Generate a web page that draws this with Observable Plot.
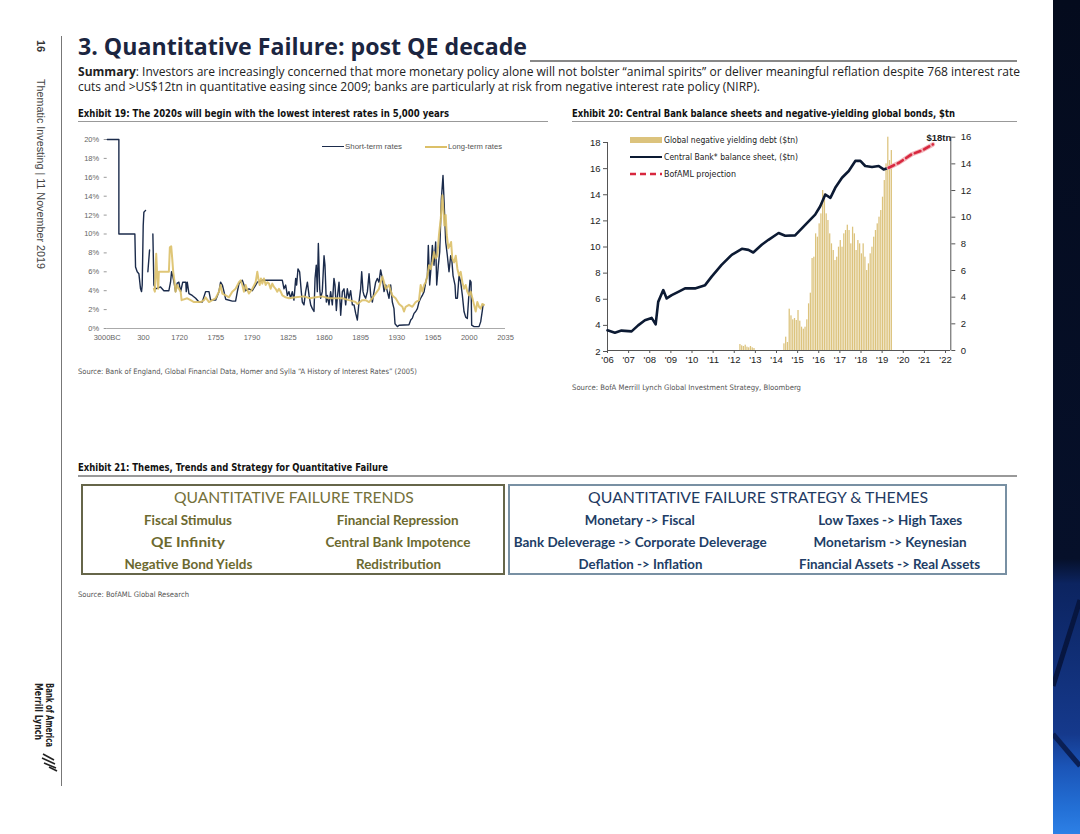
<!DOCTYPE html>
<html><head><meta charset="utf-8">
<script src="https://cdn.jsdelivr.net/npm/d3@7"></script>
<script src="https://cdn.jsdelivr.net/npm/@observablehq/plot@0.6"></script>
<style>
html,body{margin:0;padding:0;background:#fff;}
#page{position:relative;width:1080px;height:834px;overflow:hidden;background:#fff;}
.t{position:absolute;white-space:nowrap;line-height:1;}
.abs{position:absolute;}
</style></head><body><div id="page"></div>
<script>
// ---------- Exhibit 19 data: interest rates over 5,000 years ----------
const rateXTicks = [-3000, 300, 1720, 1755, 1790, 1825, 1860, 1895, 1930, 1965, 2000, 2035];
const rateYTicks = [0, 2, 4, 6, 8, 10, 12, 14, 16, 18, 20];
const shortYears = [-3000,-1936,-1935,-478,-417,-265,-113,39,130,191,282,318,384,430,475,541,600,671,711,776,972,1103,1299,1364,1404,1456,1521,1560,1626,1691,
1721,1723,1726,1726.4,1727.4,1729,1732.2,1735.5,1738.7,1741.9,1745.1,1748.4,1750,1754.8,1758,1759.6,1761.3,1762.9,1764.5,1770.9,1774.1,1775.8,1777.4,1780.6,1782.2,1783.8,1787,1790.3,1793.5,1795.1,1799.9,1819.3,1820.9,1822.5,1824.1,1825.7,1827.3,1828.9,1830.5,1832.2,1833.1,1834.4,1836,1837.6,1838.6,1840.2,1841.8,1843.5,1845.1,1846.7,1848.3,1849.9,1850.9,1852.1,1853.1,1854.1,1855.4,1856.3,1857.9,1859.6,1860.5,1861.8,1862.8,1864.4,1866,1867.6,1869.2,1870.2,1871.5,1872.4,1874.1,1875.7,1877.3,1878.9,1880.5,1882.1,1883.7,1885.3,1887,1888.6,1890.2,1891.8,1893.4,1895,1896,1897.3,1898.3,1899.8,1901.5,1903.1,1904.7,1906.3,1907.9,1909.5,1911.1,1912.7,1914.3,1916,1917.6,1919.2,1920.8,1922.4,1924,1925.6,1927.2,1928.2,1930.5,1932.1,1941.7,1943.4,1945,1946.6,1948.2,1949.8,1951.4,1953,1954.6,1956.3,1957.9,1959.5,1960.4,1961.7,1962.7,1964.3,1965.9,1967.5,1968.5,1970.1,1971.4,1973,1974.6,1975.9,1977.2,1978.8,1980.4,1982,1983,1984.3,1986.2,1986.9,1988.5,1990.1,1991.7,1993.3,1994.9,1996.5,1998.1,1999.8,2000.7,2001.7,2002.3,2004.6,2009.4,2011,2012.6,2013.3];
const shortRates = [20,20,10,10,6.5,6.0,5.8,4.2,3.9,4.6,10.9,12.3,12.5,null,6.0,8.3,null,10.0,4.6,4.2,4.4,4.0,4.0,4.9,6.0,5.5,4.6,3.9,4.8,4.9,
3.9,4.9,4.9,3.9,4.9,3.7,3.5,3.2,2.8,2.8,3.9,3.9,3.0,3.0,3.9,4.9,4.6,3.9,3.1,2.9,2.9,3.9,4.75,5.1,4.6,4.0,4.2,4.0,4.6,4.9,5.1,5.1,4.2,4.6,3.5,3.9,3.2,3.9,3.0,5.3,4.6,6.3,6.0,3.9,2.8,2.5,3.9,4.9,3.5,2.5,2.1,1.8,5.3,6.7,3.9,9.0,4.2,3.2,3.9,7.7,6.7,2.8,3.5,2.5,3.9,2.5,5.3,4.6,1.9,3.2,4.9,1.4,3.9,4.2,2.5,4.2,3.2,4.0,2.5,2.5,1.6,0.9,2.8,4.2,6.0,3.9,3.5,3.2,3.9,5.8,3.5,2.8,3.9,4.9,5.3,4.9,6.2,5.3,3.9,4.6,3.9,3.2,4.6,2.8,2.1,0.5,0.2,0.35,0.4,0.9,1.1,1.6,1.8,2.1,2.8,3.2,3.5,3.9,4.9,5.6,8.8,4.6,6.0,8.8,6.7,9.15,4.6,6.7,8.1,13.7,16.2,12.7,9.15,7.7,6.0,7.7,7.4,5.6,4.6,3.2,3.2,5.6,4.9,3.5,1.8,1.2,1.06,3.9,5.1,4.9,0.35,0.2,0.2,0.7,1.9,2.5];
const longYears = [711,750,802,841,881,907,1299,1338,1390,1430,1469,1521,1560,1626,1691,1721,1721.9,1727.4,1730.6,1733.9,1740.3,1743.5,1745.1,1748.4,1751.6,1754.8,1758,1759.6,1761.3,1764.5,1767.7,1770.9,1774.1,1777.4,1779,1780.6,1782.2,1783.8,1785.4,1787,1790.3,1793.5,1795.1,1796.1,1797.4,1798.6,1799.9,1801.5,1803.2,1804.8,1806.4,1808,1809.6,1811.2,1812.8,1814.4,1816,1817.7,1819.3,1822.5,1825.7,1832.2,1840,1846,1851.5,1858,1864,1870.8,1877.3,1883.7,1890.2,1891.8,1896.6,1899.8,1903.1,1906.3,1909.5,1912.7,1914.3,1916,1917.6,1919.2,1922.4,1924,1925.6,1928.8,1932.1,1935.3,1936.9,1938.5,1941.7,1945,1948.2,1951.4,1953,1954.6,1956.3,1957.9,1959.5,1961.1,1962.7,1964.3,1965.9,1967.5,1969.1,1970.7,1972.4,1974,1974.9,1975.9,1977.2,1978.2,1979.8,1981.1,1982.4,1983.6,1985.3,1986.9,1988.5,1990.1,1991.7,1993.3,1994.9,1996.5,1998.1,1999.8,2001.4,2003,2004.6,2006.2,2007.8,2009.4,2011,2012.6,2014.2];
const longRates = [4.2,3.9,7.9,5.6,4.2,6.0,6.0,8.6,8.7,7.4,6.0,4.9,3.9,4.6,4.2,3.9,3.0,3.2,3.0,2.8,2.8,3.0,3.3,2.8,3.0,3.2,3.9,4.6,3.7,3.5,3.3,3.9,4.2,4.9,5.1,4.6,3.9,4.6,4.1,3.7,4.2,4.9,6.0,5.3,4.6,5.3,4.75,5.3,4.6,4.9,4.75,4.2,4.75,4.4,4.2,3.9,4.2,3.9,3.5,3.3,3.2,3.3,3.4,3.2,3.3,3.4,3.2,3.2,3.2,3.0,2.8,2.6,3.0,3.0,2.8,3.2,3.7,4.2,4.9,5.5,4.9,4.2,4.6,4.0,3.5,3.2,2.6,2.3,1.8,2.3,2.5,2.3,2.8,3.0,4.6,3.9,4.6,4.9,5.6,6.7,6.3,7.0,8.1,7.4,7.7,9.9,11.6,14.1,12.7,10.9,12.0,9.9,8.5,8.8,9.15,7.4,7.0,7.7,6.3,5.6,6.0,4.9,4.2,4.6,3.9,3.5,3.9,3.2,2.5,1.8,2.8,2.3,2.1,2.6,2.5];

// ---------- Exhibit 20 data ----------
const cbYears = [2006.0,2006.35,2006.66,2007.14,2007.45,2007.77,2008.09,2008.28,2008.4,2008.64,2008.8,2009.04,2009.35,2009.67,2010.14,2010.62,2010.93,2011.4,2011.88,2012.36,2012.67,2012.9,2013.3,2013.62,2014.1,2014.41,2014.88,2015.36,2015.83,2016.07,2016.31,2016.55,2016.78,2017.1,2017.42,2017.73,2017.97,2018.2,2018.52,2018.84,2019.07,2019.31];
const cbValues = [3.62,3.44,3.6,3.54,4.0,4.39,4.57,4.08,5.8,6.7,6.06,6.31,6.57,6.83,6.83,7.08,7.73,8.63,9.4,9.86,9.78,9.58,10.17,10.55,11.07,10.86,10.89,11.7,12.48,13.12,14.02,13.76,14.53,15.3,15.82,16.59,16.59,16.2,16.12,16.2,15.94,16.07];
const projYears = [2019.31,2019.8,2020.4,2020.9,2021.4];
const projValues = [16.07,16.45,17.1,17.4,17.85];
const negMonths = ["2012-04","2012-05","2012-06","2012-07","2012-08","2012-09","2012-10","2012-11","2012-12",
"2014-05","2014-06","2014-07","2014-08","2014-09","2014-10","2014-11","2014-12",
"2015-01","2015-02","2015-03","2015-04","2015-05","2015-06","2015-07","2015-08","2015-09","2015-10","2015-11","2015-12",
"2016-01","2016-02","2016-03","2016-04","2016-05","2016-06","2016-07","2016-08","2016-09","2016-10","2016-11","2016-12",
"2017-01","2017-02","2017-03","2017-04","2017-05","2017-06","2017-07","2017-08","2017-09","2017-10","2017-11","2017-12",
"2018-01","2018-02","2018-03","2018-04","2018-05","2018-06","2018-07","2018-08","2018-09","2018-10","2018-11","2018-12",
"2019-01","2019-02","2019-03","2019-04","2019-05","2019-06"];
const negDebt = [0.45,0.35,0.3,0.4,0.25,0.2,0.3,0.2,0.15,
0.5,1.0,0.6,3.1,2.6,2.3,2.4,2.25,
3.0,2.2,1.75,1.6,1.75,2.3,3.5,4.3,6.9,7.0,8.75,8.5,
9.5,10.25,12.0,11.75,10.25,9.75,8.75,8.0,7.5,6.75,7.0,7.75,
8.25,7.75,8.75,9.0,9.4,9.0,8.0,9.25,8.75,7.5,8.25,8.0,
7.25,8.0,7.0,6.0,6.5,7.25,7.75,8.5,9.0,9.5,10.0,10.5,
11.5,12.75,14.0,16.0,14.25,15.0];
const yearTicks = [2006,2007,2008,2009,2010,2011,2012,2013,2014,2015,2016,2017,2018,2019,2020,2021,2022];
const leftTicks = [2,4,6,8,10,12,14,16,18];
const rightTicks = [0,2,4,6,8,10,12,14,16];

// ---------- Exhibit 21 table ----------
const trendsTitle = "QUANTITATIVE FAILURE TRENDS";
const trendsItems = [["Fiscal Stimulus","Financial Repression"],["QE Infinity","Central Bank Impotence"],["Negative Bond Yields","Redistribution"]];
const themesTitle = "QUANTITATIVE FAILURE STRATEGY & THEMES";
const themesItems = [["Monetary -> Fiscal","Low Taxes -> High Taxes"],["Bank Deleverage -> Corporate Deleverage","Monetarism -> Keynesian"],["Deflation -> Inflation","Financial Assets -> Real Assets"]];

const page = document.getElementById('page');
function box(o){const d=document.createElement('div');d.className='abs';Object.assign(d.style,o);page.appendChild(d);return d;}
function txt(s,o){
  const el=document.createElement('div');el.className='t';
  if(o.html) el.innerHTML=s; else el.textContent=s;
  const size=o.size||10;
  el.style.fontSize=size+'px';
  el.style.fontFamily=o.font||"Lato, sans-serif";
  el.style.fontWeight=o.weight||'normal';
  el.style.color=o.color||'#222';
  page.appendChild(el);
  const w0=el.getBoundingClientRect().width;
  const sc=o.w?o.w/w0:1;
  if(o.rotate){
    el.style.left=(o.x+size/2)+'px';el.style.top=o.y+'px';
    el.style.transformOrigin='0 0';el.style.transform=`rotate(90deg) scaleX(${sc})`;
  } else {
    const a=o.anchor||'start';let left=o.x;
    if(a==='middle') left=o.x-w0/2; else if(a==='end') left=o.x-w0;
    el.style.left=left+'px';el.style.top=(o.y-size/2)+'px';
    el.style.transformOrigin=a==='middle'?'50% 50%':a==='end'?'100% 50%':'0 50%';
    if(sc!==1) el.style.transform=`scaleX(${sc})`;
  }
  return el;
}
const NARROW="'Liberation Sans Narrow','DejaVu Sans Condensed','Liberation Sans',sans-serif";
const ARIAL="'Liberation Sans',Arial,sans-serif";

// ---------- page furniture ----------
box({left:'61px',top:'36px',width:'1px',height:'750px',background:'#777'});
txt("16",{x:40,y:40,size:11,weight:'bold',font:ARIAL,color:'#333',rotate:true});
txt("Thematic Investing | 11 November 2019",{x:41,y:79,size:10.5,font:ARIAL,color:'#444',w:190,rotate:true});
txt("Bank of America",{x:49,y:683,size:10,weight:'bold',font:NARROW,color:'#222',w:64,rotate:true});
txt("Merrill Lynch",{x:37.5,y:683,size:10,weight:'bold',font:NARROW,color:'#222',w:57,rotate:true});
(function(){const s=document.createElementNS('http://www.w3.org/2000/svg','svg');
 s.setAttribute('width','20');s.setAttribute('height','20');s.style.position='absolute';s.style.left='40px';s.style.top='752px';
 s.innerHTML='<g stroke="#222" stroke-width="1.6" fill="none"><path d="M3,2 L14,8"/><path d="M2,6 L15,12"/><path d="M4,11 L16,16"/><path d="M9,15 L17,19"/></g>';
 page.appendChild(s);})();
(function(){const s=document.createElementNS('http://www.w3.org/2000/svg','svg');
 s.setAttribute('width','27');s.setAttribute('height','834');s.style.position='absolute';s.style.left='1053px';s.style.top='0px';
 s.innerHTML='<defs><linearGradient id="bandg" x1="0" y1="0" x2="0" y2="1"><stop offset="0" stop-color="#040b1d"/><stop offset="0.67" stop-color="#06102a"/><stop offset="0.70" stop-color="#0c2460"/><stop offset="0.88" stop-color="#15398c"/><stop offset="0.92" stop-color="#1b55b8"/><stop offset="0.97" stop-color="#2370d6"/><stop offset="1" stop-color="#2d80e6"/></linearGradient></defs><rect width="27" height="834" fill="url(#bandg)"/><path d="M27,600 L0,686" stroke="#071640" stroke-width="5"/><path d="M0,734 L27,766" stroke="#0a1f55" stroke-width="5"/>';
 page.appendChild(s);})();

// ---------- headings ----------
txt("3. Quantitative Failure: post QE decade",{x:78,y:46,size:23,weight:'bold',font:"'Open Sans',sans-serif",color:'#1b2540',w:449});
box({left:'530px',top:'60px',width:'487px',height:'2px',background:'#888'});
txt("<b>Summary</b>: Investors are increasingly concerned that more monetary policy alone will not bolster \u201canimal spirits\u201d or deliver meaningful reflation despite 768 interest rate",{x:78,y:72,size:12,font:"'Open Sans',sans-serif",color:'#222',w:942,html:true});
txt("cuts and >US$12tn in quantitative easing since 2009; banks are particularly at risk from negative interest rate policy (NIRP).",{x:78,y:87,size:12,font:"'Open Sans',sans-serif",color:'#222',w:682});
txt("Exhibit 19: The 2020s will begin with the lowest interest rates in 5,000 years",{x:78,y:113,size:11,weight:'bold',font:NARROW,color:'#111',w:371});
txt("Exhibit 20: Central Bank balance sheets and negative-yielding global bonds, $tn",{x:572,y:113,size:11,weight:'bold',font:NARROW,color:'#111',w:383});
box({left:'78px',top:'121px',width:'470px',height:'1px',background:'#999'});
box({left:'572px',top:'121px',width:'445px',height:'1px',background:'#999'});

// ---------- Exhibit 19 chart ----------
(function(){
  const W=445,H=222,L=70,T=128;
  const x0=106.7-L,x1=505-L;
  const xr=rateXTicks.map((d,i)=>x0+i*(x1-x0)/(rateXTicks.length-1));
  const sData=shortYears.map((y,i)=>({year:y,rate:shortRates[i]}));
  const lData=longYears.map((y,i)=>({year:y,rate:longRates[i]}));
  const c=Plot.plot({
    width:W,height:H,marginTop:11,marginBottom:H-200,marginLeft:x0,marginRight:W-x1,
    style:{fontFamily:ARIAL,fontSize:'7.5px',color:'#666',background:'transparent',overflow:'visible'},
    x:{type:'linear',domain:rateXTicks,range:xr},
    y:{domain:[0,20]},
    marks:[
      Plot.axisY({ticks:rateYTicks,tickFormat:d=>d+'%',tickSize:3,tickPadding:5,stroke:'#999',label:null}),
      Plot.axisX({ticks:rateXTicks,tickFormat:d=>d<0?(-d)+'BC':String(d),tickSize:0,tickPadding:6,label:null}),
      Plot.ruleY([0],{stroke:'#aaa',strokeWidth:1}),
      Plot.line(sData,{x:'year',y:'rate',stroke:'#1b2b4b',strokeWidth:1.4}),
      Plot.line(lData,{x:'year',y:'rate',stroke:'#dcc068',strokeWidth:2,strokeOpacity:0.9})
    ]
  });
  c.style.position='absolute';c.style.left=L+'px';c.style.top=T+'px';
  page.appendChild(c);
  box({left:'322px',top:'145.5px',width:'22px',height:'1.5px',background:'#1b2b4b'});
  txt("Short-term rates",{x:345,y:146.5,size:7.5,font:ARIAL,color:'#555',w:57});
  box({left:'425px',top:'145.5px',width:'22px',height:'2px',background:'#dcc068'});
  txt("Long-term rates",{x:448,y:146.5,size:7.5,font:ARIAL,color:'#555',w:54});
})();
txt("Source: Bank of England, Global Financial Data, Homer and Sylla \u201cA History of Interest Rates\u201d (2005)",{x:78,y:372,size:7.5,font:NARROW,color:'#555',w:339});

// ---------- Exhibit 20 chart ----------
(function(){
  const W=420,H=250,L=560,T=125;
  const ml=47,mr=W-390.3;
  const negData=negMonths.map((m,i)=>{const [y,mo]=m.split('-').map(Number);const t=y+(mo-1)/12;return {t,t2:t+1/12,v:negDebt[i]};});
  const cbData=cbYears.map((y,i)=>({t:y,v:cbValues[i]}));
  const pjData=projYears.map((y,i)=>({t:y,v:projValues[i]}));
  const st={fontFamily:ARIAL,fontSize:'9.5px',color:'#222',background:'transparent',overflow:'visible'};
  const bars=Plot.plot({
    width:W,height:H,marginLeft:ml,marginRight:mr,marginTop:11.7,marginBottom:25,style:st,
    x:{domain:[2006,2022.25]},y:{domain:[0,16]},
    marks:[
      Plot.rectY(negData,{x1:'t',x2:'t2',y:'v',fill:'#dcc37d',insetLeft:0.25,insetRight:0.25}),
      Plot.axisX({ticks:yearTicks,tickFormat:d=>"'"+String(d).slice(2),tickSize:3,tickPadding:3,stroke:'#555',label:null}),
      Plot.axisY({anchor:'right',ticks:rightTicks,tickSize:4,tickPadding:6,stroke:'#555',label:null}),
      Plot.ruleY([0],{stroke:'#555'}),
      Plot.ruleX([2022.25],{stroke:'#555'})
    ]
  });
  bars.style.position='absolute';bars.style.left=L+'px';bars.style.top=T+'px';
  page.appendChild(bars);
  const lines=Plot.plot({
    width:W,height:H,marginLeft:ml,marginRight:mr,marginTop:17,marginBottom:24,style:st,
    x:{domain:[2006,2022.25],axis:null},y:{domain:[2,18]},
    marks:[
      Plot.axisY({anchor:'left',ticks:leftTicks,tickSize:4,tickPadding:3,stroke:'#555',label:null}),
      Plot.ruleX([2006],{stroke:'#555'}),
      Plot.line(cbData,{x:'t',y:'v',stroke:'#0c1a33',strokeWidth:2.6,curve:'linear'}),
      Plot.line(pjData,{x:'t',y:'v',stroke:'#f2b6bb',strokeWidth:4.5}),
      Plot.line(pjData,{x:'t',y:'v',stroke:'#d8283f',strokeWidth:2.6,strokeDasharray:'6,4'}),
      Plot.text(pjData.slice(-1),{x:'t',y:'v',text:()=>"$18tn",dx:6,dy:-7,fontSize:9.5,fontWeight:'bold',fill:'#222'})
    ]
  });
  lines.style.position='absolute';lines.style.left=L+'px';lines.style.top=T+'px';
  page.appendChild(lines);
  box({left:'630px',top:'137px',width:'32px',height:'6px',background:'#dcc37d'});
  txt("Global negative yielding debt ($tn)",{x:664,y:140,size:9,font:NARROW,color:'#222',w:134});
  box({left:'630px',top:'156px',width:'32px',height:'2px',background:'#0c1a33'});
  txt("Central Bank* balance sheet, ($tn)",{x:664,y:157,size:9,font:NARROW,color:'#222',w:134});
  const ls=document.createElementNS('http://www.w3.org/2000/svg','svg');
  ls.setAttribute('width','34');ls.setAttribute('height','6');ls.style.position='absolute';ls.style.left='629px';ls.style.top='171px';
  ls.innerHTML='<line x1="1" y1="3" x2="33" y2="3" stroke="#d8283f" stroke-width="2.6" stroke-dasharray="6,4"/>';
  page.appendChild(ls);
  txt("BofAML projection",{x:664,y:174,size:9,font:NARROW,color:'#222',w:72});
})();
txt("Source: BofA Merrill Lynch Global Investment Strategy, Bloomberg",{x:572,y:388,size:7.5,font:NARROW,color:'#555',w:229});

// ---------- Exhibit 21 ----------
txt("Exhibit 21: Themes, Trends and Strategy for Quantitative Failure",{x:78,y:467,size:11,weight:'bold',font:NARROW,color:'#111',w:310});
box({left:'78px',top:'475px',width:'939px',height:'1.5px',background:'#999'});
box({left:'81px',top:'484px',width:'420px',height:'87px',border:'2px solid #66664a'});
box({left:'508px',top:'484px',width:'495px',height:'87px',border:'2px solid #7890a3'});
const trendW=[[88,122],[74,145],[128,85]];
const themeW=[[110,144],[253,153],[124,181]];
txt(trendsTitle,{x:294,y:497,size:15,font:"Lato,sans-serif",color:'#75713a',w:240,anchor:'middle'});
txt(themesTitle,{x:758,y:497,size:15,font:"Lato,sans-serif",color:'#1f3b63',w:340,anchor:'middle'});
const rowY=[521,543,565];
trendsItems.forEach((r,i)=>{
  txt(r[0],{x:188,y:rowY[i],size:12.5,weight:'bold',font:"Lato,sans-serif",color:'#6c692f',w:trendW[i][0],anchor:'middle'});
  txt(r[1],{x:398,y:rowY[i],size:12.5,weight:'bold',font:"Lato,sans-serif",color:'#6c692f',w:trendW[i][1],anchor:'middle'});
});
themesItems.forEach((r,i)=>{
  txt(r[0],{x:640,y:rowY[i],size:12.5,weight:'bold',font:"Lato,sans-serif",color:'#213d66',w:themeW[i][0],anchor:'middle'});
  txt(r[1],{x:890,y:rowY[i],size:12.5,weight:'bold',font:"Lato,sans-serif",color:'#213d66',w:themeW[i][1],anchor:'middle'});
});
txt("Source: BofAML Global Research",{x:78,y:595,size:7.5,font:NARROW,color:'#555',w:111});
</script></body></html>
